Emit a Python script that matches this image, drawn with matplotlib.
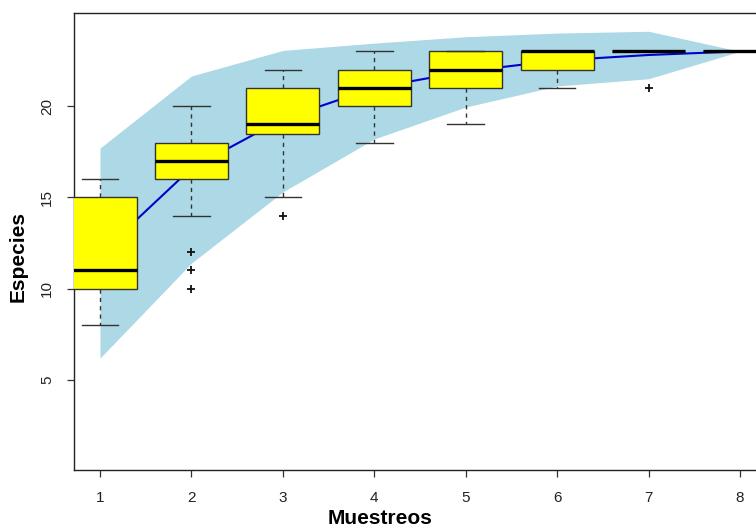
import matplotlib
matplotlib.use("Agg")
import matplotlib.pyplot as plt
import numpy as np

plt.rcParams['font.family'] = ['Liberation Sans', 'DejaVu Sans']

# ---- data ----
muestreos = [1, 2, 3, 4, 5, 6, 7, 8]
mean_rich = [11.9, 16.6, 19.3, 21.0, 21.9, 22.5, 22.8, 23.0]
band_upper = [17.7, 21.65, 23.05, 23.45, 23.8, 24.0, 24.1, 23.0]
band_lower = [6.2, 11.4, 15.3, 18.2, 19.95, 21.1, 21.5, 23.0]

box_q1 = [10, 16, 18.5, 20, 21, 22, 23, 23]
box_med = [11, 17, 19, 21, 22, 23, 23, 23]
box_q3 = [15, 18, 21, 22, 23, 23, 23, 23]
box_whislo = [8, 14, 15, 18, 19, 21, 23, 23]
box_whishi = [16, 20, 22, 23, 23, 23, 23, 23]
box_fliers = [[], [12, 11, 10], [14], [], [], [], [21], []]

xticks = [1, 2, 3, 4, 5, 6, 7, 8]
yticks = [5, 10, 15, 20]

# ---- figure ----
W, H = 756, 527
fig = plt.figure(figsize=(W / 100, H / 100), dpi=100)
left_px, right_px, top_px, bot_px = 74.4, 765.6, 13, 470
ax = fig.add_axes([left_px / W, (H - bot_px) / H,
                   (right_px - left_px) / W, (bot_px - top_px) / H])

ax.fill_between(muestreos, band_lower, band_upper, color='#add8e6',
                linewidth=0, zorder=1)
ax.plot(muestreos, mean_rich, color='#0000cd', linewidth=1.5, zorder=2)

stats = []
for i in range(len(muestreos)):
    stats.append(dict(med=box_med[i], q1=box_q1[i], q3=box_q3[i],
                      whislo=box_whislo[i], whishi=box_whishi[i],
                      fliers=box_fliers[i]))
edge = '#333333'
bp = ax.bxp(stats, positions=muestreos, widths=0.8, patch_artist=True,
            showfliers=True, zorder=3,
            boxprops=dict(facecolor='#ffff00', edgecolor=edge, linewidth=1.0),
            medianprops=dict(color='black', linewidth=2.4, solid_capstyle='butt'),
            whiskerprops=dict(color=edge, linewidth=1.0, linestyle=(0, (3, 3))),
            capprops=dict(color=edge, linewidth=1.0),
            flierprops=dict(marker='+', markersize=6, markeredgecolor='#111111',
                            markeredgewidth=1.3, linestyle='none'),
            capwidths=0.4)

ax.set_xlim(0.72, 8.28)
ax.set_ylim(0.07, 25.1)
ax.set_xticks(xticks)
ax.set_xticklabels([str(v) for v in xticks])
ax.set_yticks(yticks)
ax.set_yticklabels([str(v) for v in yticks], rotation=90, va='center')

for s in ax.spines.values():
    s.set_color('#222222')
    s.set_linewidth(1.0)

ax.tick_params(axis='both', direction='out', length=5, width=0.9,
               color='#333333', labelsize=11, labelcolor='#222222')
ax.tick_params(axis='x', pad=10)
ax.tick_params(axis='y', pad=9.5)

ax.set_xlabel('Muestreos', fontsize=15, fontweight='bold')
ax.xaxis.set_label_coords((380 - left_px) / (right_px - left_px),
                          (bot_px - 518) / (bot_px - top_px))
ax.xaxis.label.set_va('center')
ax.set_ylabel('Especies', fontsize=15, fontweight='bold')
ax.yaxis.set_label_coords((18 - left_px) / (right_px - left_px),
                          (bot_px - 257) / (bot_px - top_px))
ax.yaxis.label.set_va('center')

fig.savefig('out.png', dpi=100)
